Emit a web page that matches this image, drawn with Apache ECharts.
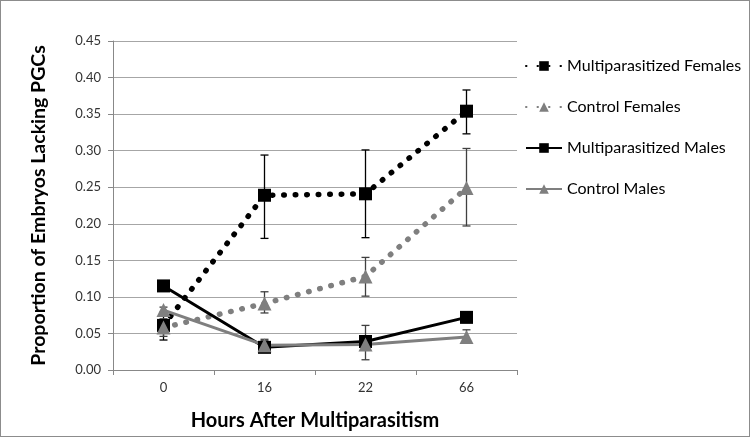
<!DOCTYPE html>
<html>
<head>
<meta charset="utf-8">
<script src="https://cdn.jsdelivr.net/npm/echarts@6/dist/echarts.min.js"></script>
<style>
  html, body { margin: 0; padding: 0; background: #fff; }
  #main { width: 748px; height: 435px; border: 1px solid #8c8c8c; }
</style>
</head>
<body>
<div id="main"></div>
<script>
  var hours = ['0', '16', '22', '66'];

  // mean values
  var multiFemales = [0.061, 0.239, 0.241, 0.354];
  var ctrlFemales = [0.058, 0.091, 0.128, 0.249];
  var multiMales = [0.115, 0.031, 0.039, 0.072];
  var ctrlMales = [0.082, 0.034, 0.035, 0.045];

  // error bar ends [low, high]
  var multiFemalesErr = [[0.041, 0.079], [0.180, 0.294], [0.181, 0.301], [0.323, 0.383]];
  var ctrlFemalesErr = [[0.046, 0.070], [0.078, 0.107], [0.101, 0.154], [0.197, 0.303]];
  var multiMalesErr = [[0.108, 0.122], [0.024, 0.040], [0.014, 0.061], [0.065, 0.079]];
  var ctrlMalesErr = [[0.076, 0.086], [0.026, 0.042], [0.028, 0.042], [0.037, 0.055]];

  var myChart = echarts.init(document.getElementById('main'));

  var dotStyle = { type: [0.5, 11], cap: 'round', width: 5.5 };

  function errSeries(errs, color) {
    return {
      type: 'custom',
      silent: true,
      z: 1,
      data: errs.map(function (e, i) { return [i, e[0], e[1]]; }),
      renderItem: function (params, api) {
        var lo = api.coord([api.value(0), api.value(1)]);
        var hi = api.coord([api.value(0), api.value(2)]);
        var w = 4;
        var st = { stroke: color, lineWidth: 1.3 };
        return {
          type: 'group',
          children: [
            { type: 'line', shape: { x1: hi[0], y1: hi[1], x2: lo[0], y2: lo[1] }, style: st },
            { type: 'line', shape: { x1: hi[0] - w, y1: hi[1], x2: hi[0] + w, y2: hi[1] }, style: st },
            { type: 'line', shape: { x1: lo[0] - w, y1: lo[1], x2: lo[0] + w, y2: lo[1] }, style: st }
          ]
        };
      }
    };
  }

  var option = {
    animation: false,
    textStyle: { fontFamily: 'Lato' },
    grid: { left: 112, right: 232, top: 40, bottom: 65 },
    legend: {
      orient: 'vertical',
      left: 519,
      top: 52,
      itemGap: 25,
      itemWidth: 36,
      itemHeight: 12,
      textStyle: { fontSize: 16, color: '#000', fontFamily: 'Lato' },
      data: ['Multiparasitized Females', 'Control Females', 'Multiparasitized Males', 'Control Males']
    },
    xAxis: {
      type: 'category',
      data: hours,
      name: 'Hours After Multiparasitism',
      nameLocation: 'middle',
      nameGap: 41,
      nameTextStyle: { fontSize: 20, fontWeight: 'bold', color: '#000', fontFamily: 'Lato' },
      axisLine: { lineStyle: { color: '#888', width: 1 } },
      axisTick: { show: true, length: 5, lineStyle: { color: '#888' } },
      axisLabel: { color: '#333', fontSize: 13, margin: 11 }
    },
    yAxis: {
      type: 'value',
      min: 0,
      max: 0.45,
      interval: 0.05,
      name: 'Proportion of Embryos Lacking PGCs',
      nameLocation: 'middle',
      nameGap: 64,
      nameTextStyle: { fontSize: 19.5, fontWeight: 'bold', color: '#000', fontFamily: 'Lato' },
      axisLine: { show: true, lineStyle: { color: '#888' } },
      axisTick: { show: true, length: 5, lineStyle: { color: '#888' } },
      axisLabel: {
        color: '#333', fontSize: 13, margin: 12,
        formatter: function (v) { return v.toFixed(2); }
      },
      splitLine: { lineStyle: { color: '#a6a6a6', width: 1 } }
    },
    series: [
      errSeries(multiFemalesErr, '#000'),
      errSeries(ctrlFemalesErr, '#404040'),
      errSeries(multiMalesErr, '#404040'),
      errSeries(ctrlMalesErr, '#404040'),
      {
        name: 'Multiparasitized Females',
        type: 'line',
        data: multiFemales,
        symbol: 'rect',
        symbolSize: 13,
        itemStyle: { color: '#000' },
        lineStyle: Object.assign({ color: '#000' }, dotStyle),
        z: 3
      },
      {
        name: 'Control Females',
        type: 'line',
        data: ctrlFemales,
        symbol: 'triangle',
        symbolSize: 14,
        itemStyle: { color: '#7f7f7f' },
        lineStyle: Object.assign({ color: '#7f7f7f' }, dotStyle),
        z: 3
      },
      {
        name: 'Multiparasitized Males',
        type: 'line',
        data: multiMales,
        symbol: 'rect',
        symbolSize: 13,
        itemStyle: { color: '#000' },
        lineStyle: { color: '#000', width: 3 },
        z: 4
      },
      {
        name: 'Control Males',
        type: 'line',
        data: ctrlMales,
        symbol: 'triangle',
        symbolSize: 14,
        itemStyle: { color: '#7f7f7f' },
        lineStyle: { color: '#7f7f7f', width: 3 },
        z: 4
      }
    ]
  };

  myChart.setOption(option);
</script>
</body>
</html>
